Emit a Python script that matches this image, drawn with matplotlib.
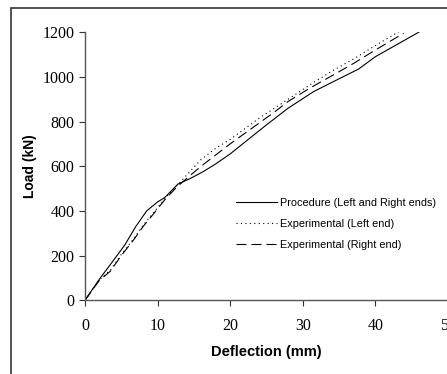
import matplotlib.pyplot as plt
from matplotlib.patches import Rectangle

# values
proc_x = [0, 2, 3.5, 5.5, 7, 8.5, 10, 11, 12.8, 14.5, 16.3, 18, 20, 22.5, 25, 28, 31.5, 34, 37.7, 40, 43, 46]
proc_y = [0, 95, 160, 248, 330, 400, 440, 460, 520, 545, 576, 610, 655, 720, 785, 860, 934, 975, 1035, 1090, 1145, 1200]

left_x = [0, 2, 3.5, 5, 6.7, 8, 9.4, 11, 12.6, 14, 16, 18, 20, 24, 28, 31.5, 34, 37, 40, 43.4]
left_y = [0, 92, 135, 205, 275, 335, 390, 455, 510, 560, 630, 680, 720, 815, 900, 975, 1025, 1080, 1140, 1205]

right_x = [0, 2, 3.5, 5, 6.7, 8, 9.4, 11, 12.6, 14, 16, 18, 20, 23, 26, 28, 31, 34.3, 37, 40, 43.9]
right_y = [0, 90, 130, 200, 270, 330, 385, 450, 505, 545, 600, 650, 700, 770, 840, 890, 950, 1010, 1060, 1120, 1195]

x_ticks = [0, 10, 20, 30, 40, 50]
y_ticks = [0, 200, 400, 600, 800, 1000, 1200]

fig = plt.figure(figsize=(4.47, 3.74), dpi=100)
ax = fig.add_axes([0.190, 0.197, 0.812, 0.717])

# outer frame around the figure
fig.patches.append(Rectangle((11 / 447, -0.05), 1.1, 1 - 8 / 374 + 0.05,
                             transform=fig.transFigure, fill=False,
                             edgecolor='#333333', linewidth=1.2))

ax.plot(proc_x, proc_y, color='black', lw=0.8, label='Procedure (Left and Right ends)')
ax.plot(left_x, left_y, color='black', lw=0.8, linestyle=(0, (1, 3)), label='Experimental (Left end)')
ax.plot(right_x, right_y, color='black', lw=0.8, linestyle=(0, (9, 4.5)), label='Experimental (Right end)')

ax.set_xlim(0, 50)
ax.set_ylim(0, 1200)
ax.set_xticks(x_ticks)
ax.set_yticks(y_ticks)
for lbl in ax.get_xticklabels() + ax.get_yticklabels():
    lbl.set_fontfamily('Liberation Serif')
    lbl.set_fontsize(11.5)
ax.tick_params(direction='out', length=4, width=0.8, colors='#333333', labelcolor='black')
ax.tick_params(axis='x', pad=9)

for s in ['top', 'right']:
    ax.spines[s].set_visible(False)
for s in ['left', 'bottom']:
    ax.spines[s].set_color('#555555')
    ax.spines[s].set_linewidth(1.0)

ax.set_xlabel('Deflection (mm)', fontfamily='Liberation Sans', fontweight='bold', fontsize=10.5, labelpad=8)
ax.set_ylabel('Load (kN)', fontfamily='Liberation Sans', fontweight='bold', fontsize=10, labelpad=4)

ax.legend(loc='upper left', bbox_to_anchor=(0.39, 0.418), frameon=False,
          prop={'family': 'Liberation Sans', 'size': 7.8}, handlelength=3.8,
          handletextpad=0.2, labelspacing=1.0)

fig.savefig('out.png', dpi=100)
